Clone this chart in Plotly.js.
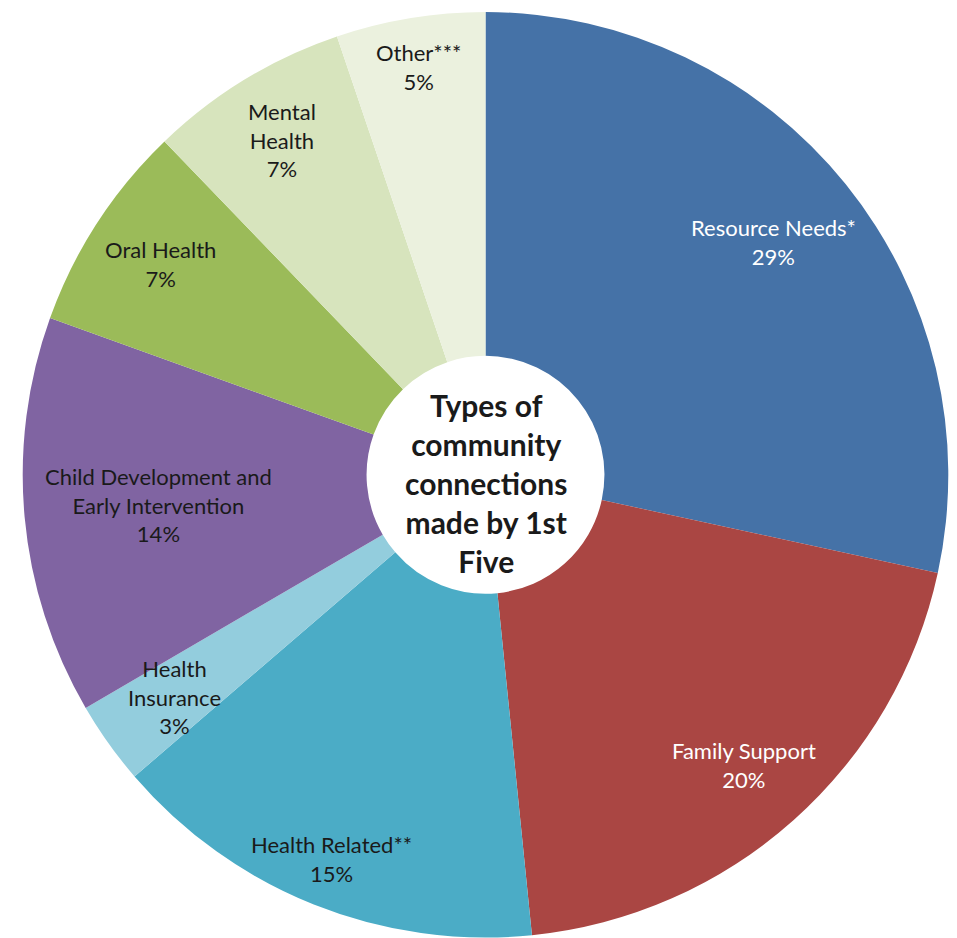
<!DOCTYPE html>
<html>
<head>
<meta charset="utf-8">
<script src="https://cdn.plot.ly/plotly-3.0.1.min.js"></script>
<style>html,body{margin:0;padding:0;background:#fff;}#chart{width:957px;height:938px;}</style>
</head>
<body>
<div id="chart"></div>
<script>
var categories = ["Resource Needs*", "Family Support", "Health Related**", "Health Insurance",
  "Child Development and Early Intervention", "Oral Health", "Mental Health", "Other***"];
var displayNames = ["Resource Needs*", "Family Support", "Health Related**", "Health<br>Insurance",
  "Child Development and<br>Early Intervention", "Oral Health", "Mental<br>Health", "Other***"];
var values = [28.4, 20.0, 15.3, 2.9, 13.9, 7.3, 7.0, 5.2];
var percentLabels = ["29%", "20%", "15%", "3%", "14%", "7%", "7%", "5%"];
var centerTitle = "Types of<br>community<br>connections<br>made by 1st<br>Five";

// Styling
var colors = ["#4572A7", "#AA4643", "#4BACC6", "#93CDDD", "#8064A2", "#9BBB59", "#D7E4BD", "#EBF1DE"];
var textColors = ["#ffffff", "#ffffff", "#1a1a1a", "#1a1a1a", "#1a1a1a", "#1a1a1a", "#1a1a1a", "#1a1a1a"];
var labelRadius = [0.80, 0.84, 0.895, 0.826, 0.71, 0.838, 0.846, 0.894];

var W = 957, H = 938;
var domX = [22.7 / W, 948.3 / W];
var domY = [1 - 937.6 / H, 1 - 12 / H];

var trace = {
  type: "pie",
  labels: categories,
  values: values,
  sort: false,
  direction: "clockwise",
  rotation: 0,
  hole: 0.257,
  marker: { colors: colors, line: { width: 0 } },
  textinfo: "none",
  hoverinfo: "label+percent",
  showlegend: false,
  domain: { x: domX, y: domY }
};

// Labels placed on each slice's bisector, computed from the values
var total = values.reduce(function (a, b) { return a + b; }, 0);
var cxPx = (domX[0] + domX[1]) / 2 * W;
var cyPx = (1 - (domY[0] + domY[1]) / 2) * H;
var Rpx = Math.min((domX[1] - domX[0]) * W, (domY[1] - domY[0]) * H) / 2;
var annotations = [];
var cum = 0;
for (var i = 0; i < values.length; i++) {
  var mid = (cum + values[i] / 2) / total;
  cum += values[i];
  var ang = mid * 2 * Math.PI;
  var r = labelRadius[i] * Rpx;
  var px = cxPx + r * Math.sin(ang);
  var py = cyPx - r * Math.cos(ang);
  annotations.push({
    x: px / W, y: 1 - py / H, xref: "paper", yref: "paper",
    text: displayNames[i] + "<br>" + percentLabels[i],
    showarrow: false, xanchor: "center", yanchor: "middle", align: "center",
    font: { family: "Lato, 'Open Sans', sans-serif", size: 22, color: textColors[i] }
  });
}
annotations.push({
  x: cxPx / W, y: 1 - (cyPx + 8) / H, xref: "paper", yref: "paper",
  text: "<b>" + centerTitle + "</b>",
  showarrow: false, xanchor: "center", yanchor: "middle", align: "center",
  font: { family: "Lato, 'Open Sans', sans-serif", size: 30, color: "#1a1a1a" }
});

var layout = {
  width: W, height: H,
  margin: { l: 0, r: 0, t: 0, b: 0 },
  paper_bgcolor: "#ffffff",
  annotations: annotations
};

Plotly.newPlot("chart", [trace], layout, { displayModeBar: false, staticPlot: true });
</script>
</body>
</html>
